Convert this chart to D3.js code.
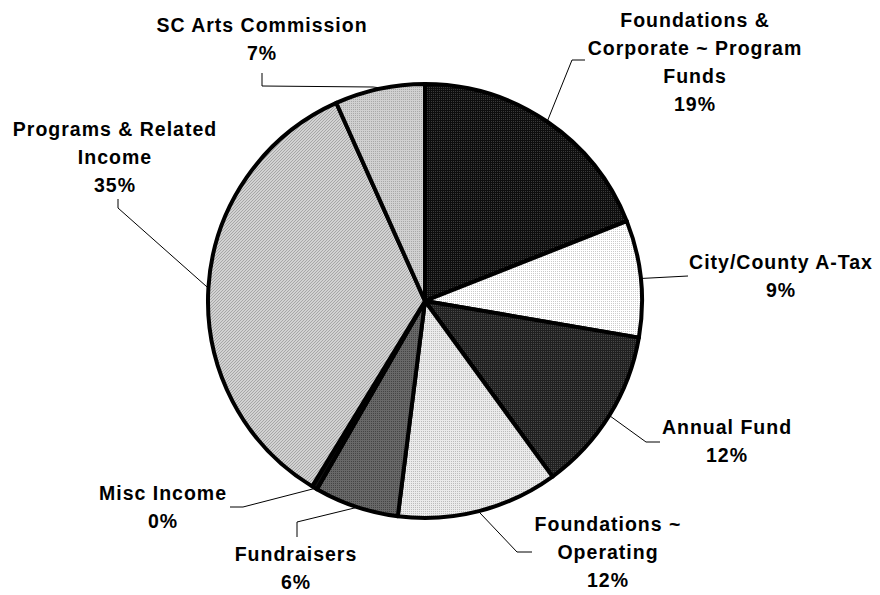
<!DOCTYPE html>
<html>
<head>
<meta charset="utf-8">
<script src="https://cdn.jsdelivr.net/npm/d3@7"></script>
<style>
  html, body { margin: 0; padding: 0; background: #ffffff; }
  svg { display: block; }
  text { font-family: "Liberation Sans", Arial, sans-serif; font-weight: bold; font-size: 19.5px; letter-spacing: 1px; fill: #000; }
</style>
</head>
<body>
<svg id="chart" width="880" height="595"></svg>
<script>
// ---- data ----
const categories = [
  "Foundations & Corporate ~ Program Funds",
  "City/County A-Tax",
  "Annual Fund",
  "Foundations ~ Operating",
  "Fundraisers",
  "Misc Income",
  "Programs & Related Income",
  "SC Arts Commission"
];
const values = [19.0, 8.7, 12.3, 12.0, 6.3, 0.4, 34.6, 6.7];
const labelLines = [
  ["Foundations &", "Corporate ~ Program", "Funds"],
  ["City/County A-Tax"],
  ["Annual Fund"],
  ["Foundations ~", "Operating"],
  ["Fundraisers"],
  ["Misc Income"],
  ["Programs & Related", "Income"],
  ["SC Arts Commission"]
];

// ---- styling / layout (kept separate from data) ----
const fills = [
  {bg: "#0e0e0e", dot: "#3a3a3a", kind: "dot"},
  {bg: "#ffffff", dot: "#cccccc", kind: "dot"},
  {bg: "#202020", dot: "#474747", kind: "dot"},
  {bg: "#ebebeb", dot: "#bcbcbc", kind: "dot"},
  {bg: "#686868", dot: "#444444", kind: "dot"},
  {bg: "#111111", dot: "#111111", kind: "dot"},
  {bg: "#d2d2d2", dot: "#a6a6a6", kind: "diag"},
  {bg: "#d0d0d0", dot: "#a8a8a8", kind: "dot"}
];
const labelLayout = [
  {x: 695, y: 27, leader: [[572, 60], [585, 60]]},
  {x: 781, y: 269, leader: [[688, 276]]},
  {x: 727, y: 434, leader: [[646, 442], [660, 442]]},
  {x: 608, y: 531, leader: [[517, 552], [532, 552]]},
  {x: 296, y: 561, leader: [[297, 522], [297, 537]]},
  {x: 163, y: 500, leader: [[243, 507], [230, 507]]},
  {x: 115, y: 136, leader: [[118, 208], [118, 199]]},
  {x: 262, y: 32, leader: [[373, 87], [262, 86], [262, 73]]}
];
const lineHeight = 28;
const cx = 425, cy = 301, R = 217;

const svg = d3.select("#chart");
const defs = svg.append("defs");
fills.forEach((f, i) => {
  const p = defs.append("pattern")
    .attr("id", "pat" + i)
    .attr("patternUnits", "userSpaceOnUse")
    .attr("width", f.kind === "diag" ? 3 : 2)
    .attr("height", f.kind === "diag" ? 3 : 2);
  if (f.kind === "diag") {
    p.append("rect").attr("width", 3).attr("height", 3).attr("fill", f.bg);
    p.append("rect").attr("x", 0).attr("y", 2).attr("width", 1).attr("height", 1).attr("fill", f.dot);
    p.append("rect").attr("x", 1).attr("y", 1).attr("width", 1).attr("height", 1).attr("fill", f.dot);
    p.append("rect").attr("x", 2).attr("y", 0).attr("width", 1).attr("height", 1).attr("fill", f.dot);
  } else {
    p.append("rect").attr("width", 2).attr("height", 2).attr("fill", f.bg);
    p.append("rect").attr("x", 0).attr("y", 0).attr("width", 1).attr("height", 1).attr("fill", f.dot);
  }
});

const pie = d3.pie().sort(null).value(d => d)(values);
const arc = d3.arc().innerRadius(0).outerRadius(R);

const g = svg.append("g").attr("transform", `translate(${cx},${cy})`);
g.selectAll("path.slice")
  .data(pie)
  .join("path")
  .attr("class", "slice")
  .attr("d", arc)
  .attr("fill", (d, i) => `url(#pat${i})`)
  .attr("stroke", "#000")
  .attr("stroke-width", 4)
  .attr("stroke-linejoin", "round");

// leader lines
const total = d3.sum(values);
pie.forEach((d, i) => {
  const a = (d.startAngle + d.endAngle) / 2;
  const sx = cx + (R + 1) * Math.sin(a);
  const sy = cy - (R + 1) * Math.cos(a);
  const pts = [[sx, sy]].concat(labelLayout[i].leader);
  svg.append("path")
    .attr("d", d3.line()(pts))
    .attr("fill", "none")
    .attr("stroke", "#000")
    .attr("stroke-width", 1);
});

// labels
pie.forEach((d, i) => {
  const L = labelLayout[i];
  const lines = labelLines[i].concat([Math.round(values[i] / total * 100) + "%"]);
  const t = svg.append("text").attr("text-anchor", "middle");
  lines.forEach((ln, k) => {
    t.append("tspan").attr("x", L.x).attr("y", L.y + k * lineHeight).text(ln);
  });
});
</script>
</body>
</html>
